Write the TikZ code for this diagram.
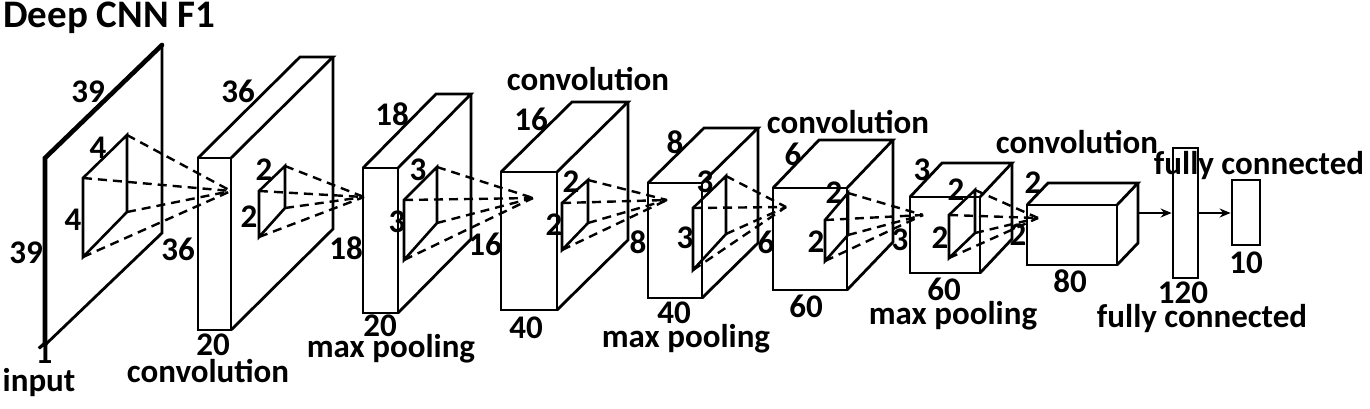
\documentclass[tikz,border=0pt]{standalone}
\usepackage{fontspec}
\setmainfont{Carlito}
\usetikzlibrary{arrows.meta,calc}
\tikzset{
  box/.style={line width=2.8pt, line join=miter},
  thickedge/.style={line width=4.6pt},
  kern/.style={line width=2.6pt},
  ray/.style={line width=2.4pt, dash pattern=on 9pt off 6pt},
  lbl/.style={anchor=base, inner sep=0pt, font=\fontsize{33}{38}\selectfont\bfseries},
  conn/.style={line width=2.4pt, -{Stealth[length=11pt,width=9pt]}},
  fc/.style={draw, line width=2.8pt, inner sep=0pt, minimum width=#1}
}
% cuboid: x1,y1 (front top-left), x2,y2 (front bottom-right), dx,dy (depth offset)
\newcommand\mycube[6]{%
  \draw[box] (#1,#2) rectangle (#3,#4);
  \draw[box] (#1,#2) -- ++(#5,#6) -- ++(#3-#1,0) -- (#3,#2);
  \draw[box] ($(#3,#2)+(#5,#6)$) -- ++(0,#4-#2) -- (#3,#4);
}
% kernel: name, left x, left top y, left bottom y, right x, right top y, right bottom y, convergence coordinate
\newcommand\mykernel[8]{%
  \coordinate (#1a) at (#2,#3);
  \coordinate (#1b) at (#5,#6);
  \coordinate (#1c) at (#5,#7);
  \coordinate (#1d) at (#2,#4);
  \draw[kern] (#1a) -- (#1b) -- (#1c) -- (#1d) -- cycle;
  \draw[ray] (#1a) -- (#8);
  \draw[ray] (#1b) -- (#8);
  \draw[ray] (#1c) -- (#8);
  \draw[ray] (#1d) -- (#8);
}
\begin{document}
\begin{tikzpicture}[x=1pt,y=-1pt]
\useasboundingbox (0,0) rectangle (1370,408);

% convergence points
\coordinate (c1) at (231,191);
\coordinate (c2) at (364,197);
\coordinate (c3) at (533,198);
\coordinate (c4) at (667,200);
\coordinate (c5) at (786,207);
\coordinate (c6) at (923,215);
\coordinate (c7) at (1038,218);

% layer 1: input plane
\coordinate (in1) at (45,158);
\coordinate (in2) at (162,45);
\coordinate (in3) at (162,233);
\coordinate (in4) at (45,345);
\draw[box] (in2) -- (in3) -- (in4);
\draw[thickedge, line cap=round] (in4) -- (in1) -- (in2);

% layers 2..8
\mycube{198}{158}{231}{330}{102}{-101}
\mycube{363}{168}{398}{313}{73}{-74}
\mycube{501}{172}{557}{310}{71}{-70}
\mycube{648}{183}{702}{298}{56}{-55}
\mycube{773}{188}{847}{290}{46}{-48}
\mycube{910}{197}{980}{273}{32}{-34}
\mycube{1027}{205}{1117}{265}{21}{-22}

% kernels with rays
\mykernel{k1}{83}{178}{257}{127}{135}{212}{c1}
\mykernel{k2}{259}{191}{237}{285}{166}{208}{c2}
\mykernel{k3}{404}{200}{260}{437}{167}{223}{c3}
\mykernel{k4}{562}{203}{250}{588}{180}{223}{c4}
\mykernel{k5}{693}{208}{270}{726}{176}{234}{c5}
\mykernel{k6}{825}{220}{261}{848}{193}{235}{c6}
\mykernel{k7}{949}{215}{258}{975}{190}{233}{c7}

% fully connected layers
\node[fc=25pt, minimum height=130pt] (fc1) at (1185.5,213) {};
\node[fc=28pt, minimum height=65pt] (fc2) at (1246,212.5) {};
\coordinate (l8r) at (1138,213);
\draw[conn] (l8r) -- (fc1.west |- l8r);
\draw[conn] (fc1.east |- l8r) -- (fc2.west |- l8r);

% labels
\node[lbl, anchor=base west, font=\fontsize{39}{44}\selectfont\bfseries] (title) at (3,27) {Deep CNN F1};
\node[lbl] (t1) at (88,102) {39};
\node[lbl] (t2) at (26,263) {39};
\node[lbl] (t3) at (98,158) {4};
\node[lbl] (t4) at (73,230) {4};
\node[lbl] (t5) at (44,363) {1};
\node[lbl] (t6) at (39,391) {input};

\node[lbl] (t7) at (238,102) {36};
\node[lbl] (t8) at (178,260) {36};
\node[lbl] (t9) at (264,180) {2};
\node[lbl] (t10) at (249,227) {2};
\node[lbl] (t11) at (213,355) {20};
\node[lbl] (t12) at (208,382) {convolution};

\node[lbl] (t13) at (392,125) {18};
\node[lbl] (t14) at (346,259) {18};
\node[lbl] (t15) at (418,180) {3};
\node[lbl] (t16) at (397,232) {3};
\node[lbl] (t17) at (380,336) {20};
\node[lbl] (t18) at (391,357) {max pooling};

\node[lbl] (t19) at (531,130) {16};
\node[lbl] (t20) at (485,255) {16};
\node[lbl] (t21) at (571,192) {2};
\node[lbl] (t22) at (554,235) {2};
\node[lbl] (t23) at (526,338) {40};
\node[lbl] (t24) at (588,90) {convolution};

\node[lbl] (t25) at (675,153) {8};
\node[lbl] (t26) at (638,253) {8};
\node[lbl] (t27) at (705,192) {3};
\node[lbl] (t28) at (685,248) {3};
\node[lbl] (t29) at (674,323) {40};
\node[lbl] (t30) at (686,347) {max pooling};

\node[lbl] (t31) at (793,165) {6};
\node[lbl] (t32) at (766,253) {6};
\node[lbl] (t33) at (834,203) {2};
\node[lbl] (t34) at (816,252) {2};
\node[lbl] (t35) at (806,317) {60};
\node[lbl] (t36) at (848,133) {convolution};

\node[lbl] (t37) at (922,180) {3};
\node[lbl] (t38) at (900,250) {3};
\node[lbl] (t39) at (956,200) {2};
\node[lbl] (t40) at (940,248) {2};
\node[lbl] (t41) at (944,300) {60};
\node[lbl] (t42) at (953,324) {max pooling};

\node[lbl] (t43) at (1033,193) {2};
\node[lbl] (t44) at (1018,245) {2};
\node[lbl] (t45) at (1070,292) {80};
\node[lbl] (t46) at (1077,153) {convolution};

\node[lbl] (t47) at (1259,174) {fully connected};
\node[lbl] (t48) at (1183,303) {120};
\node[lbl] (t49) at (1246,273) {10};
\node[lbl] (t50) at (1202,327) {fully connected};
\end{tikzpicture}
\end{document}
